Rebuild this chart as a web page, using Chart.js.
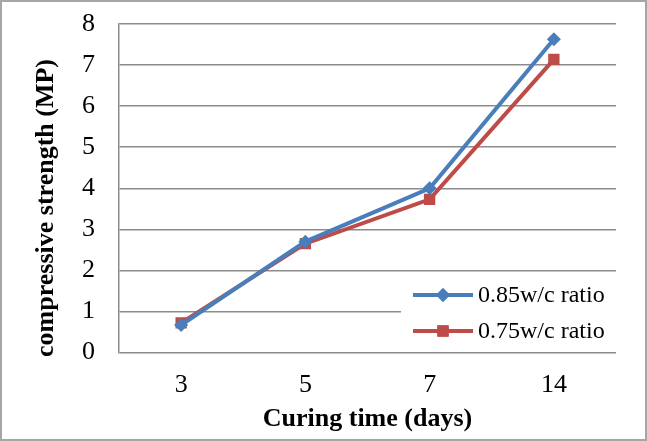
<!DOCTYPE html>
<html>
<head>
<meta charset="utf-8">
<script src="https://cdn.jsdelivr.net/npm/chart.js@4.4.1/dist/chart.umd.min.js"></script>
<style>
  html, body { margin: 0; padding: 0; background: #fff; }
  #wrap { width: 647px; height: 441px; box-sizing: border-box; border: 2px solid #a6a6a6; background: #fff; }
  canvas { display: block; }
</style>
</head>
<body>
<div id="wrap"><canvas id="c" width="643" height="437"></canvas></div>
<script>
const categories = ['3', '5', '7', '14'];
const seriesNames = ['0.85w/c ratio', '0.75w/c ratio'];
const series085 = [0.67, 2.70, 4.00, 7.63];
const series075 = [0.72, 2.65, 3.73, 7.14];
const yTicks = [0, 1, 2, 3, 4, 5, 6, 7, 8];
const xTitle = 'Curing time (days)';
const yTitle = 'compressive strength (MP)';

const BLUE = '#4A7EBB';
const RED = '#BE4B48';
const GRID = '#8c8c8c';
const FONT = "'Liberation Serif', 'Times New Roman', serif";

const overlay = {
  id: 'overlay',
  beforeDatasetsDraw(chart) {
    const ctx = chart.ctx;
    const ca = chart.chartArea;
    const bx = 399, by = 276, bw = ca.right - 399, bh = 70;
    ctx.save();
    ctx.fillStyle = '#fff';
    ctx.fillRect(bx, by, bw, bh);
    const rows = [
      { y: 293, color: BLUE, style: 'rectRot', r: 7, text: seriesNames[0] },
      { y: 329, color: RED, style: 'rect', r: 8, text: seriesNames[1] }
    ];
    rows.forEach(row => {
      ctx.strokeStyle = row.color;
      ctx.lineWidth = 4;
      ctx.beginPath();
      ctx.moveTo(411, row.y);
      ctx.lineTo(471, row.y);
      ctx.stroke();
      ctx.fillStyle = row.color;
      Chart.helpers.drawPoint(ctx, { pointStyle: row.style, radius: row.r, borderWidth: 0 }, 441, row.y);
      ctx.fill();
      ctx.fillStyle = '#000';
      ctx.font = "24px " + FONT;
      ctx.textAlign = 'left';
      ctx.textBaseline = 'middle';
      ctx.fillText(row.text, 476, row.y + 1);
    });
    ctx.restore();
  },
  afterDraw(chart) {
    const ctx = chart.ctx;
    ctx.save();
    ctx.translate(51, 206);
    ctx.rotate(-Math.PI / 2);
    ctx.fillStyle = '#000';
    ctx.font = "bold 26px " + FONT;
    ctx.textAlign = 'center';
    ctx.textBaseline = 'alphabetic';
    ctx.fillText(yTitle, 0, 0);
    ctx.restore();
  }
};

new Chart(document.getElementById('c'), {
  type: 'line',
  data: {
    labels: categories,
    datasets: [
      {
        label: seriesNames[0],
        data: series085,
        borderColor: BLUE,
        backgroundColor: BLUE,
        borderWidth: 4,
        pointStyle: 'rectRot',
        pointRadius: 7,
        pointBorderWidth: 0,
        pointHoverRadius: 7,
        tension: 0,
        order: 1
      },
      {
        label: seriesNames[1],
        data: series075,
        borderColor: RED,
        backgroundColor: RED,
        borderWidth: 4,
        pointStyle: 'rect',
        pointRadius: 8,
        pointBorderWidth: 0,
        pointHoverRadius: 8,
        tension: 0,
        order: 2
      }
    ]
  },
  options: {
    responsive: false,
    animation: false,
    devicePixelRatio: 1,
    layout: { padding: { top: 22, right: 29, left: 0, bottom: 0 } },
    plugins: {
      legend: { display: false },
      tooltip: { enabled: false }
    },
    scales: {
      x: {
        offset: true,
        grid: { display: false, drawTicks: false },
        border: { display: false },
        ticks: { color: '#000', font: { family: FONT, size: 26 }, padding: 17 },
        title: { display: true, text: xTitle, color: '#000', font: { family: FONT, size: 26, weight: 'bold' }, padding: { top: 0, bottom: 4 } },
        afterFit(s) { s.height = 86.5; s.paddingLeft = 0; s.paddingRight = 0; s.paddingTop = 0; s.paddingBottom = 0; }
      },
      y: {
        min: 0,
        max: 8,
        afterBuildTicks(s) { s.ticks = yTicks.map(v => ({ value: v })); },
        grid: { color: GRID, lineWidth: 1.5, drawTicks: false },
        border: { display: true, color: GRID, width: 1.5 },
        ticks: { color: '#000', font: { family: FONT, size: 26 }, padding: 24 },
        afterFit(s) { s.width = 117; s.paddingTop = 0; s.paddingBottom = 0; s.paddingLeft = 0; s.paddingRight = 0; }
      }
    }
  },
  plugins: [overlay]
});
</script>
</body>
</html>
